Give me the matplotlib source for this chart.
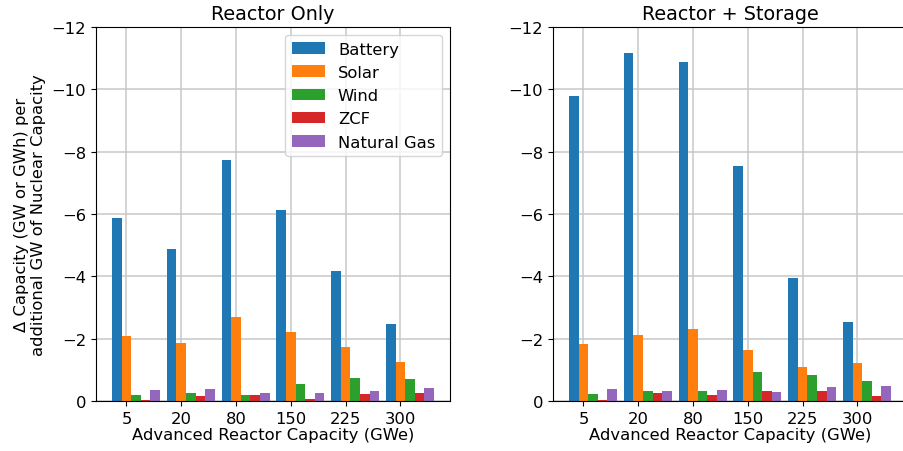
import numpy as np
import matplotlib
matplotlib.use('Agg')
import matplotlib.pyplot as plt


# -----------------------------------------------------------------------------
# Data (change in capacity per additional GW of nuclear)
# -----------------------------------------------------------------------------

capacities = ['5', '20', '80', '150', '225', '300']
techs = ['Battery', 'Solar', 'Wind', 'ZCF', 'Natural Gas']
colors = ['#1f77b4', '#ff7f0e', '#2ca02c', '#d62728', '#9467bd']

# Reactor Only
ro_battery = [-5.87, -4.87, -7.73, -6.13, -4.18, -2.48]
ro_solar = [-2.08, -1.87, -2.70, -2.22, -1.74, -1.26]
ro_wind = [-0.19, -0.27, -0.20, -0.55, -0.75, -0.71]
ro_zcf = [-0.02, -0.17, -0.20, -0.07, -0.23, -0.27]
ro_gas = [-0.35, -0.39, -0.27, -0.27, -0.33, -0.42]

# Reactor + Storage
rs_battery = [-9.79, -11.16, -10.88, -7.54, -3.95, -2.54]
rs_solar = [-1.84, -2.13, -2.32, -1.64, -1.10, -1.23]
rs_wind = [-0.23, -0.33, -0.33, -0.94, -0.85, -0.65]
rs_zcf = [-0.02, -0.27, -0.20, -0.33, -0.33, -0.17]
rs_gas = [-0.39, -0.33, -0.36, -0.30, -0.46, -0.49]

reactor_only = [ro_battery, ro_solar, ro_wind, ro_zcf, ro_gas]
reactor_storage = [rs_battery, rs_solar, rs_wind, rs_zcf, rs_gas]

FS = 11.8


def draw_panel(ax, series, title, legend=False):
    x = np.arange(len(capacities))
    w = 0.175
    for i, (vals, name, c) in enumerate(zip(series, techs, colors)):
        ax.bar(x + (i - 1) * w, vals, w, color=c, label=name)
    ax.set_xticks(x)
    ax.set_xticklabels(capacities)
    ax.set_ylim(0, -12)
    ax.set_yticks([0, -2, -4, -6, -8, -10, -12])
    ax.set_axisbelow(True)
    ax.grid(True, color='#c8c8c8', linewidth=1.1)
    ax.tick_params(labelsize=FS)
    ax.set_title(title, fontsize=13.8)
    ax.set_xlabel('Advanced Reactor Capacity (GWe)', fontsize=FS, labelpad=1)
    if legend:
        ax.legend(loc='upper right', fontsize=FS)


fig = plt.figure(figsize=(9.04, 4.52), dpi=100)
ax1 = fig.add_axes([96 / 904, 50 / 452, 354 / 904, 374 / 452])
ax2 = fig.add_axes([553 / 904, 50 / 452, 354 / 904, 374 / 452])

draw_panel(ax1, reactor_only, 'Reactor Only', legend=True)
draw_panel(ax2, reactor_storage, 'Reactor + Storage')
ax1.set_ylabel('Δ Capacity (GW or GWh) per\nadditional GW of Nuclear Capacity',
               fontsize=FS)

fig.savefig('out.png', dpi=100)
